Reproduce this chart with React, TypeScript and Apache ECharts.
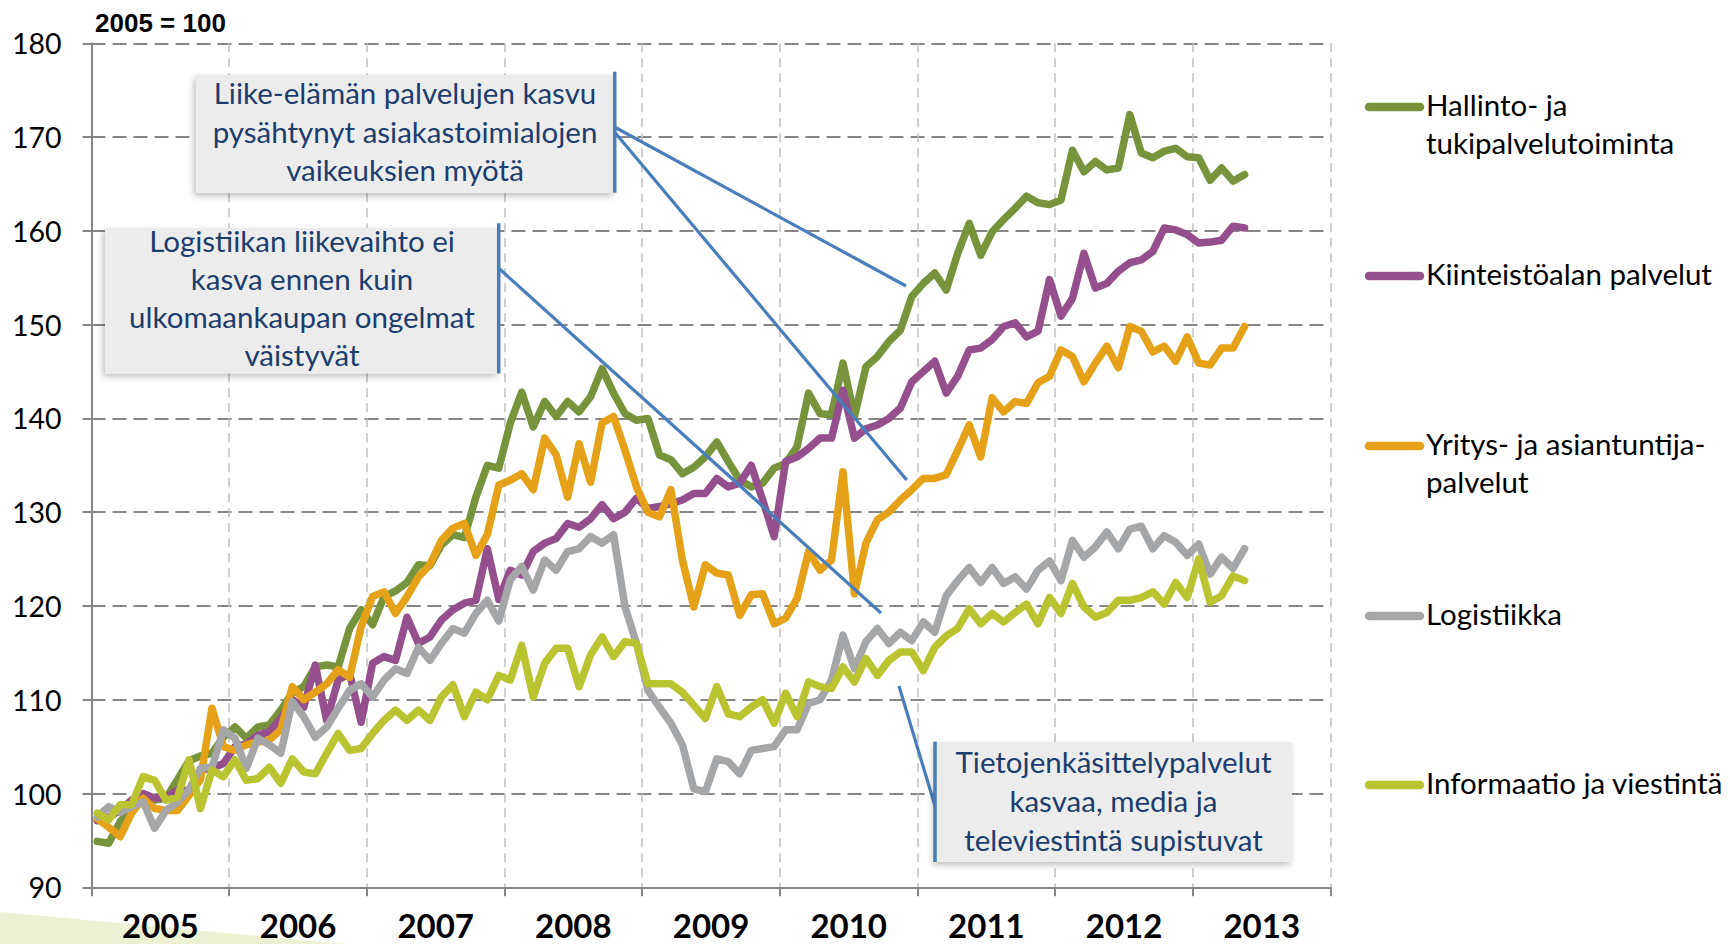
import React, { useEffect, useRef } from "react";
import * as echarts from "echarts";

const years = ["2005", "2006", "2007", "2008", "2009", "2010", "2011", "2012", "2013"];
const yTicks = { min: 90, max: 180, step: 10 };

const seriesNames = [
  "Hallinto- ja tukipalvelutoiminta",
  "Kiinteistöalan palvelut",
  "Yritys- ja asiantuntijapalvelut",
  "Logistiikka",
  "Informaatio ja viestintä",
];
const legendLabels = [
  "Hallinto- ja\ntukipalvelutoiminta",
  "Kiinteistöalan palvelut",
  "Yritys- ja asiantuntija-\npalvelut",
  "Logistiikka",
  "Informaatio ja viestintä",
];
const colors = ["#77933c", "#954f8d", "#e5a218", "#a5a6a8", "#b9c430"];

// monthly values, Jan 2005 .. May 2013
const hallinto = [
  94.9, 94.7, 97.0, 98.5, 99.5, 99.3, 99.5, 101.5, 103.5, 104.0, 104.3, 106.0,
  107.1, 105.9, 107.1, 107.3, 108.9, 110.7, 111.4, 113.5, 113.7, 113.5, 117.6, 119.6,
  118.0, 121.0, 121.6, 122.5, 124.4, 124.3, 126.5, 127.6, 127.3, 131.6, 135.0, 134.7,
  139.5, 142.8, 139.1, 141.8, 140.2, 141.8, 140.7, 142.3, 145.3, 142.7, 140.5, 139.8,
  140.0, 136.1, 135.6, 134.1, 134.8, 135.9, 137.5, 135.4, 133.4, 132.7, 133.1, 134.7,
  135.2, 137.0, 142.7, 140.5, 140.4, 145.9, 140.2, 145.5, 146.6, 148.2, 149.4, 153.0,
  154.4, 155.5, 153.7, 157.6, 160.8, 157.4, 159.9, 161.2, 162.4, 163.7, 163.0, 162.8,
  163.3, 168.6, 166.3, 167.4, 166.5, 166.7, 172.4, 168.3, 167.8, 168.5, 168.8, 167.9,
  167.8, 165.4, 166.7, 165.3, 166.0,
];
const kiinteisto = [
  97.1, 97.5, 98.2, 99.3, 100.0, 99.5, 99.6, 100.4, 100.3, 102.5, 102.7, 103.2,
  105.0, 105.3, 106.2, 106.6, 108.0, 110.0, 109.2, 113.7, 107.8, 112.1, 112.8, 107.6,
  113.9, 114.6, 114.2, 118.8, 116.0, 116.7, 118.5, 119.6, 120.3, 120.6, 126.1, 120.7,
  123.8, 123.3, 125.8, 126.7, 127.2, 128.8, 128.4, 129.3, 130.8, 129.3, 130.0, 131.5,
  130.4, 130.6, 130.9, 131.3, 132.0, 132.0, 133.6, 132.7, 133.1, 135.0, 131.3, 127.4,
  135.4, 135.9, 136.8, 137.9, 137.9, 143.0, 137.9, 138.9, 139.3, 140.0, 141.1, 143.9,
  145.0, 146.1, 142.7, 144.5, 147.3, 147.5, 148.4, 149.8, 150.2, 148.7, 149.3, 154.8,
  150.9, 152.8, 157.6, 153.9, 154.4, 155.7, 156.6, 156.9, 157.8, 160.3, 160.1, 159.6,
  158.7, 158.8, 159.0, 160.5, 160.3,
];
const yritys = [
  97.3, 96.4, 95.4, 97.9, 99.5, 98.4, 98.2, 98.2, 99.8, 101.5, 109.1, 105.0,
  104.6, 105.2, 105.5, 105.7, 106.8, 111.4, 110.0, 110.8, 111.7, 113.2, 112.4, 117.8,
  121.0, 121.5, 119.2, 121.0, 123.1, 124.4, 127.0, 128.3, 128.8, 125.4, 127.6, 132.9,
  133.4, 134.1, 132.4, 137.9, 136.1, 131.6, 137.3, 133.2, 139.5, 140.2, 136.6, 132.7,
  130.0, 129.5, 132.4, 124.9, 119.9, 124.4, 123.5, 123.3, 119.0, 121.2, 121.3, 118.1,
  118.7, 120.8, 125.8, 123.8, 124.9, 134.3, 121.3, 126.7, 129.2, 130.0, 131.3, 132.4,
  133.6, 133.6, 134.0, 136.6, 139.3, 135.9, 142.2, 140.7, 141.8, 141.6, 143.8, 144.5,
  147.3, 146.6, 143.9, 145.9, 147.7, 145.4, 149.8, 149.3, 147.1, 147.7, 146.1, 148.7,
  145.9, 145.7, 147.5, 147.5, 149.8,
];
const logistiikka = [
  97.5, 98.6, 98.0, 98.6, 99.1, 96.3, 98.2, 99.1, 100.4, 102.7, 102.8, 106.8,
  105.9, 102.7, 105.9, 105.2, 104.3, 109.8, 108.2, 106.0, 107.1, 109.1, 111.0, 111.7,
  110.3, 112.1, 113.3, 112.8, 115.6, 114.2, 116.0, 117.6, 117.1, 119.2, 120.6, 118.4,
  122.8, 124.2, 121.7, 124.9, 123.8, 125.8, 126.1, 127.4, 126.7, 127.6, 119.9, 116.0,
  111.0, 109.2, 107.5, 105.2, 100.5, 100.2, 103.7, 103.4, 102.1, 104.6, 104.8, 105.0,
  106.8, 106.8, 109.6, 110.0, 112.1, 116.9, 113.3, 116.2, 117.6, 116.0, 117.2, 116.3,
  118.3, 117.2, 121.1, 122.7, 124.1, 122.5, 124.1, 122.4, 123.1, 121.8, 123.8, 124.8,
  122.7, 127.0, 125.2, 126.3, 127.9, 126.1, 128.2, 128.5, 126.1, 127.5, 126.8, 125.4,
  126.6, 123.4, 125.2, 124.0, 126.1,
];
const informaatio = [
  97.9, 97.2, 98.8, 98.8, 101.8, 101.4, 99.3, 99.6, 103.6, 98.4, 102.5, 101.8,
  103.6, 101.4, 101.6, 102.8, 101.1, 103.7, 102.3, 102.1, 104.3, 106.4, 104.6, 104.8,
  106.4, 107.8, 108.9, 107.8, 108.9, 107.8, 110.3, 111.6, 108.2, 110.8, 110.0, 112.6,
  112.1, 115.8, 110.3, 113.9, 115.5, 115.5, 111.4, 114.8, 116.7, 114.6, 116.2, 116.0,
  111.7, 111.7, 111.7, 110.8, 109.4, 108.0, 111.4, 108.5, 108.2, 109.2, 110.0, 107.5,
  110.7, 108.2, 111.9, 111.4, 111.2, 113.5, 111.9, 114.4, 112.6, 114.2, 115.1, 115.1,
  113.1, 115.6, 116.8, 117.6, 119.7, 118.1, 119.2, 118.3, 119.3, 120.2, 118.1, 120.9,
  119.2, 122.4, 119.9, 118.8, 119.3, 120.6, 120.6, 120.9, 121.5, 120.2, 122.5, 120.9,
  125.0, 120.4, 121.1, 123.2, 122.7,
];
const allSeries = [hallinto, kiinteisto, yritys, logistiikka, informaatio];

const indexLabel = "2005 = 100";
const notes = [
  "Liike-elämän palvelujen kasvu\npysähtynyt asiakastoimialojen\nvaikeuksien myötä",
  "Logistiikan liikevaihto ei\nkasva ennen kuin\nulkomaankaupan ongelmat\nväistyvät",
  "Tietojenkäsittelypalvelut\nkasvaa, media ja\nteleviestintä supistuvat",
];

const W = 1730;
const H = 944;
const NOTE_BLUE = "#4a7ebb";
const NOTE_TEXT = "#1c3d6e";
const FONT = "Lato, 'Open Sans', sans-serif";

export default function App() {
  const ref = useRef<HTMLDivElement>(null);
  useEffect(() => {
    if (!ref.current) return;
    const chart = echarts.init(ref.current, undefined, { renderer: "svg" });

    const monthsPerYear = 12;
    const series = allSeries.map((vals, k) => ({
      name: seriesNames[k],
      type: "line",
      xAxisIndex: 0,
      yAxisIndex: 0,
      data: vals.map((v, i) => [i + 0.5, v]),
      showSymbol: false,
      symbol: "none",
      lineStyle: { color: colors[k], width: 7.5, cap: "round", join: "round" },
      itemStyle: { color: colors[k] },
      z: 2 + k,
    }));

    const noteBox = (
      x: number, y: number, w: number, h: number,
      barX: number, barY1: number, barY2: number,
      text: string, tx: number, ty: number, lh: number
    ) => [
      {
        type: "rect",
        z: 100,
        shape: { x, y, width: w, height: h },
        style: {
          fill: "#ececec",
          shadowBlur: 6,
          shadowOffsetX: -2,
          shadowOffsetY: 3,
          shadowColor: "rgba(0,0,0,0.25)",
        },
      },
      {
        type: "line",
        z: 101,
        shape: { x1: barX, y1: barY1, x2: barX, y2: barY2 },
        style: { stroke: NOTE_BLUE, lineWidth: 3.5 },
      },
      {
        type: "text",
        z: 102,
        x: tx,
        y: ty,
        style: {
          text,
          fill: NOTE_TEXT,
          fontSize: 29.5,
          fontFamily: FONT,
          align: "center",
          verticalAlign: "middle",
          lineHeight: lh,
        },
      },
    ];

    const callout = (x1: number, y1: number, x2: number, y2: number) => ({
      type: "line",
      z: 100,
      shape: { x1, y1, x2, y2 },
      style: { stroke: NOTE_BLUE, lineWidth: 3.2 },
    });

    const legendTop = [107, 276, 446, 616, 785];
    const legendEls: any[] = [];
    legendLabels.forEach((lbl, k) => {
      legendEls.push({
        type: "line",
        z: 50,
        shape: { x1: 1369, y1: legendTop[k], x2: 1420, y2: legendTop[k] },
        style: { stroke: colors[k], lineWidth: 8.5, lineCap: "round" },
      });
      legendEls.push({
        type: "text",
        z: 50,
        x: 1426,
        y: legendTop[k] - 21.5,
        style: {
          text: lbl,
          fill: "#000",
          fontSize: 29.5,
          fontFamily: FONT,
          align: "left",
          verticalAlign: "top",
          lineHeight: 38,
        },
      });
    });

    const option: any = {
      animation: false,
      backgroundColor: "#ffffff",
      grid: { left: 91.5, right: W - 1330.6, top: 43.3, bottom: H - 887.3, containLabel: false },
      xAxis: [
        {
          type: "value",
          min: 0,
          max: years.length * monthsPerYear,
          interval: monthsPerYear,
          position: "bottom",
          axisLabel: { show: false },
          axisLine: { show: true, lineStyle: { color: "#868686", width: 2 } },
          axisTick: { show: true, length: 9, lineStyle: { color: "#868686", width: 2 } },
          splitLine: { show: true, lineStyle: { color: "#c0c0c0", width: 1.5, type: [9, 6] } },
        },
        {
          type: "category",
          data: years,
          position: "bottom",
          boundaryGap: true,
          axisLine: { show: false },
          axisTick: { show: false },
          splitLine: { show: false },
          axisLabel: {
            color: "#000",
            fontFamily: FONT,
            fontWeight: "bold",
            fontSize: 33,
            margin: 21,
          },
        },
      ],
      yAxis: {
        type: "value",
        min: yTicks.min,
        max: yTicks.max,
        interval: yTicks.step,
        axisLine: { show: true, lineStyle: { color: "#868686", width: 2 } },
        axisTick: { show: true, length: 9, lineStyle: { color: "#868686", width: 2 } },
        axisLabel: { color: "#000", fontFamily: FONT, fontSize: 28.5, margin: 30 },
        splitLine: { show: true, lineStyle: { color: "#868686", width: 2, type: [14, 7] } },
      },
      series,
      graphic: [
        {
          type: "polygon",
          z: -1,
          shape: { points: [[0, 912], [345, 944], [0, 944]] },
          style: { fill: "#edf1d4" },
        },
        {
          type: "text",
          x: 95,
          y: 22.5,
          style: {
            text: indexLabel,
            fill: "#000",
            fontSize: 26,
            fontWeight: "bold",
            fontFamily: "'Liberation Sans', Arial, sans-serif",
            align: "left",
            verticalAlign: "middle",
          },
        },
        callout(614.5, 127, 906, 286),
        callout(614.5, 132, 906.7, 480),
        callout(499, 268.5, 881, 613),
        callout(899, 686, 935, 806),
        ...noteBox(196, 75, 419, 118, 614.7, 71.7, 192.7, notes[0], 405, 131, 38.3),
        ...noteBox(105, 228, 394, 145.5, 498.7, 223.3, 373.5, notes[1], 302, 297.5, 38),
        ...noteBox(935, 742, 357, 120, 935, 741.7, 862, notes[2], 1113.5, 800.5, 39),
        ...legendEls,
      ],
    };
    chart.setOption(option);
    return () => chart.dispose();
  }, []);

  return (
    <div
      ref={ref}
      style={{ position: "absolute", left: 0, top: 0, width: W, height: H, background: "#fff" }}
    />
  );
}
